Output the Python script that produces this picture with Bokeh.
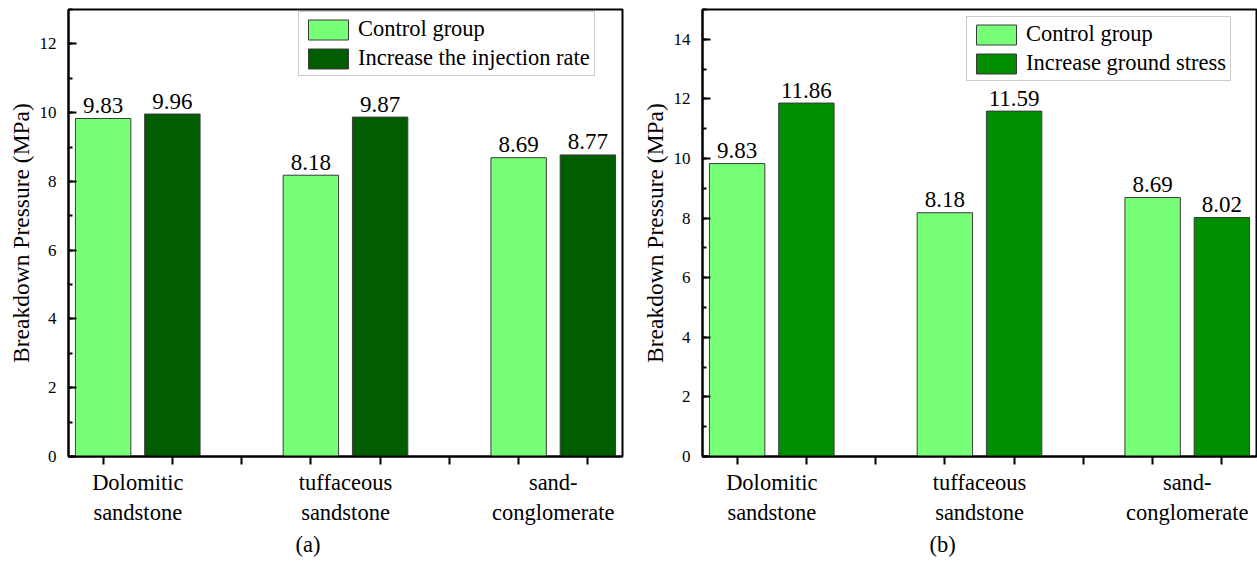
from bokeh.plotting import figure
from bokeh.layouts import row
from bokeh.models import FixedTicker, SingleIntervalTicker, Range1d, Title
from bokeh.core.properties import value
from bokeh.embed import file_html
from bokeh.resources import INLINE

# Rock types and measured breakdown pressures (MPa)
rock_types = ["Dolomitic\nsandstone", "tuffaceous\nsandstone", "sand-\nconglomerate"]
control_group = [9.83, 8.18, 8.69]
higher_injection_rate = [9.96, 9.87, 8.77]
higher_ground_stress = [11.86, 11.59, 8.02]

FONT = "Liberation Serif"
LIGHT_GREEN = "#77FF77"


def make_panel(series, series_name, series_color, y_max, caption,
               width, border_left, border_right, legend_xy):
    p = figure(width=width, height=562,
               x_range=Range1d(0.5, 8.5), y_range=Range1d(0, y_max),
               output_backend="svg", toolbar_location=None,
               min_border_left=border_left, min_border_right=border_right,
               min_border_top=9, min_border_bottom=106)

    # bars: control at 1, 4, 7 and treatment at 2, 5, 8
    xs_ctrl = [1 + 3 * i for i in range(len(rock_types))]
    xs_trt = [2 + 3 * i for i in range(len(rock_types))]

    p.vbar(x=xs_ctrl, top=control_group, width=0.8, fill_color=LIGHT_GREEN,
           line_color="#3c3c3c", line_width=1, legend_label="Control group")
    p.vbar(x=xs_trt, top=series, width=0.8, fill_color=series_color,
           line_color="#3c3c3c", line_width=1, legend_label=series_name)

    # value labels above each bar
    p.text(x=xs_ctrl + xs_trt, y=control_group + series,
           text=[f"{v:.2f}" for v in control_group + series],
           text_align="center", text_baseline="alphabetic", y_offset=-13,
           text_font=value(FONT), text_font_size="23px",
           text_font_style="normal", text_color="black")

    p.xgrid.visible = False
    p.ygrid.visible = False
    p.outline_line_color = "black"
    p.outline_line_width = 2
    p.outline_line_alpha = 1.0

    # x axis: category names between the paired ticks
    xa = p.xaxis[0]
    xa.ticker = FixedTicker(ticks=[1.5, 4.5, 7.5], minor_ticks=list(range(1, 9)))
    xa.major_label_overrides = {1.5: rock_types[0], 4.5: rock_types[1], 7.5: rock_types[2]}
    xa.major_tick_in = 0
    xa.major_tick_out = 0
    xa.minor_tick_in = 0
    xa.minor_tick_out = 8
    xa.minor_tick_line_width = 2
    xa.minor_tick_line_color = "black"
    xa.axis_line_width = 2
    xa.axis_line_color = "black"
    xa.major_label_standoff = 5
    xa.major_label_text_font = FONT
    xa.major_label_text_font_size = "22.5px"
    xa.major_label_text_font_style = "normal"
    xa.major_label_text_color = "black"

    # y axis
    ya = p.yaxis[0]
    ya.ticker = SingleIntervalTicker(interval=2, num_minor_ticks=2)
    ya.major_tick_in = 8
    ya.major_tick_out = 0
    ya.minor_tick_in = 4
    ya.minor_tick_out = 0
    ya.major_tick_line_width = 2
    ya.minor_tick_line_width = 2
    ya.major_tick_line_color = "black"
    ya.minor_tick_line_color = "black"
    ya.axis_line_width = 2
    ya.axis_line_color = "black"
    ya.major_label_standoff = 12
    ya.major_label_text_font = FONT
    ya.major_label_text_font_size = "17px"
    ya.major_label_text_font_style = "normal"
    ya.major_label_text_color = "black"
    ya.axis_label = "Breakdown Pressure (MPa)"
    ya.axis_label_text_font = FONT
    ya.axis_label_text_font_size = "23.5px"
    ya.axis_label_text_font_style = "normal"
    ya.axis_label_text_color = "black"
    ya.axis_label_standoff = 3

    lg = p.legend[0]
    lg.location = legend_xy
    lg.margin = 0
    lg.padding = 4
    lg.spacing = 3
    lg.glyph_width = 50
    lg.glyph_height = 25
    lg.label_height = 25
    lg.label_standoff = 5
    lg.label_text_font = FONT
    lg.label_text_font_size = "22.5px"
    lg.label_text_font_style = "normal"
    lg.label_text_color = "black"
    lg.border_line_color = "#9a9a9a"
    lg.border_line_width = 1
    lg.background_fill_alpha = 1.0

    # panel caption, set a little left of the frame centre
    p.add_layout(Title(text=caption, align="left", offset=227, standoff=4,
                       text_font=FONT, text_font_size="22.5px",
                       text_font_style="normal", text_color="black"), "below")
    return p


left = make_panel(higher_injection_rate, "Increase the injection rate", "#005E00",
                  13, "(a)", 637, 68, 15, (230, 380))
right = make_panel(higher_ground_stress, "Increase ground stress", "#008F00",
                   15, "(b)", 620, 65, 1, (264, 375))

layout = row(left, right)
open("out.html", "w").write(file_html(layout, INLINE))
